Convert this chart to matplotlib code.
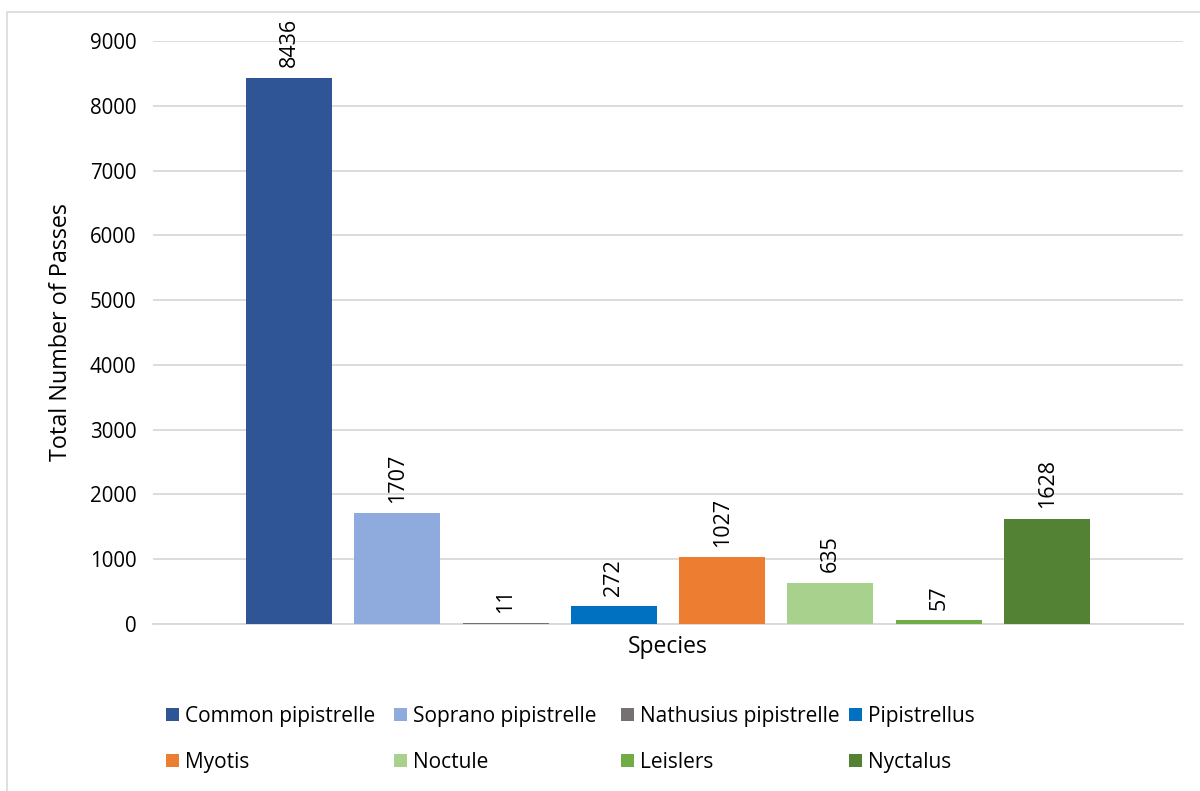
import matplotlib
matplotlib.use("Agg")
import matplotlib.pyplot as plt
from matplotlib.patches import Rectangle

plt.rcParams["font.family"] = ["Open Sans", "DejaVu Sans"]

species = ["Common pipistrelle", "Soprano pipistrelle", "Nathusius pipistrelle",
           "Pipistrellus", "Myotis", "Noctule", "Leislers", "Nyctalus"]
passes = [8436, 1707, 11, 272, 1027, 635, 57, 1628]
colors = ["#2F5597", "#8FAADC", "#767171", "#0070C0",
          "#ED7D31", "#A9D18E", "#70AD47", "#548235"]
yticks = [0, 1000, 2000, 3000, 4000, 5000, 6000, 7000, 8000, 9000]

W, H = 1200, 791
fig = plt.figure(figsize=(W / 100, H / 100), dpi=100)

# outer chart frame
fig.patches.append(Rectangle((7 / W, -0.05), 1.1, 1 - 12 / H + 0.05,
                             transform=fig.transFigure, fill=False,
                             edgecolor="#D9D9D9", linewidth=1.2, zorder=0))

ax = fig.add_axes([153 / W, 1 - 624 / H, (1183 - 153) / W, (624 - 41) / H])

bar_w = 0.794
bars = []
for i, (name, val, col) in enumerate(zip(species, passes, colors)):
    b = ax.bar(i, val, width=bar_w, color=col, label=name, zorder=3)
    bars.append(b)
    ax.annotate(str(val), xy=(i, val), xytext=(0, 7.5), textcoords="offset points",
                rotation=90, ha="center", va="bottom", fontsize=15.5, color="#000000")

ax.set_xlim(3.5 - 4.755, 3.5 + 4.755)
ax.set_ylim(0, 9000)
ax.set_yticks(yticks)
ax.set_yticklabels([str(t) for t in yticks], fontsize=14.8)
ax.set_xticks([])
ax.tick_params(axis="y", length=0, pad=12)
ax.grid(axis="y", color="#D9D9D9", linewidth=1.3, zorder=0)
for s in ["top", "right", "left"]:
    ax.spines[s].set_visible(False)
ax.spines["bottom"].set_color("#D9D9D9")
ax.spines["bottom"].set_linewidth(1.3)

ax.set_ylabel("Total Number of Passes", fontsize=16.8)
ax.yaxis.set_label_coords((73 - 153) / (1183 - 153), 0.5)
ax.set_xlabel("Species", fontsize=16.5, labelpad=8)

# legend: four columns, two rows each
col_x = [166, 394, 621, 849]
for c in range(4):
    hs = [bars[c][0], bars[c + 4][0]]
    ls = [species[c], species[c + 4]]
    fig.legend(hs, ls, loc="upper left",
               bbox_to_anchor=(col_x[c] / W, 1 - 706 / H),
               frameon=False, fontsize=15, handlelength=0.62,
               handleheight=0.62, handletextpad=0.3, labelspacing=1.2,
               borderpad=0, borderaxespad=0)

fig.savefig("out.png", dpi=100)
